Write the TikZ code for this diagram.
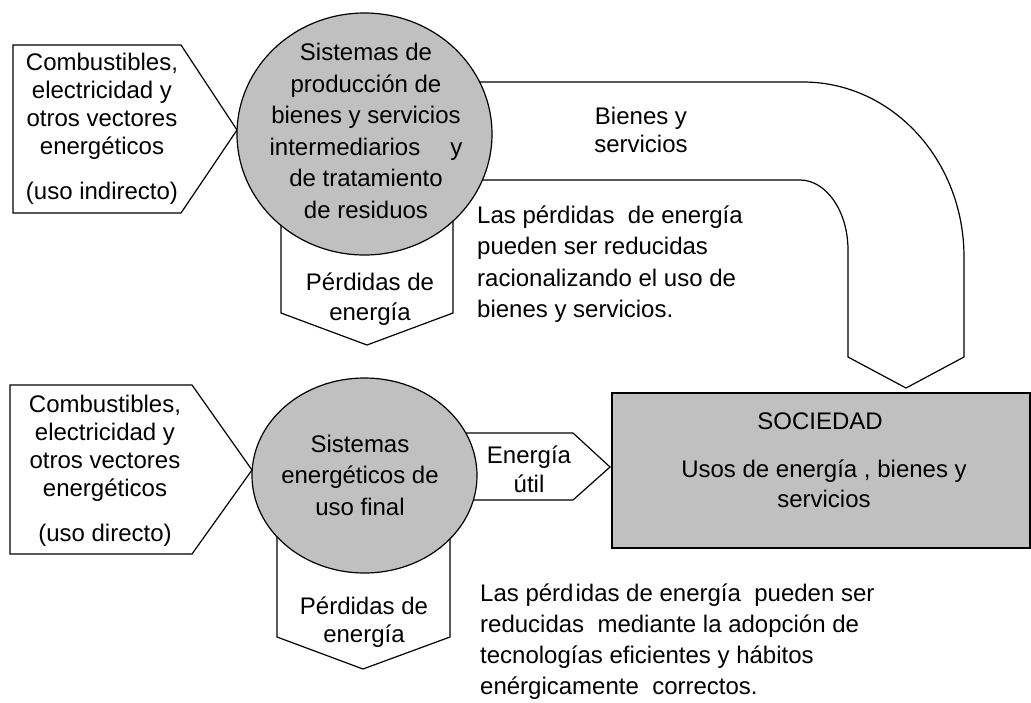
\documentclass[tikz,border=0pt]{standalone}
\usepackage{fontspec}
\setmainfont{Liberation Sans}
\usepackage{xcolor}
\usetikzlibrary{positioning}
\definecolor{sysgray}{HTML}{C0C0C0}
\def\tx{\fontsize{24}{28}\selectfont}

\begin{document}
\begin{tikzpicture}[x=1pt, y=-1pt,
  shp/.style={draw, line width=1.2pt, line join=miter},
  lbl/.style={align=center, inner sep=0pt, font=\tx},
  notetext/.style={align=left, inner sep=0pt, anchor=west, font=\fontsize{24}{31.5}\selectfont}]
\useasboundingbox (0,0) rectangle (1031,702);

% entradas
\draw[shp, fill=white] (13,45) -- (181,45) -- (237,130) -- (181,213) -- (13,213) -- cycle;
\draw[shp, fill=white] (10,385) -- (192,385) -- (252,470) -- (192,554) -- (10,554) -- cycle;

% perdidas
\draw[shp, fill=white] (281,200) -- (281,313) -- (367,345) -- (453,313) -- (453,200) -- cycle;
\draw[shp, fill=white] (277,520) -- (277,637) -- (363,669) -- (450,637) -- (450,520) -- cycle;

% bienes y servicios
\draw[shp, fill=white] (440,82) -- (803,82) .. controls (892,82) and (964,160) .. (964,257)
  -- (964,357) -- (906,388) -- (848,357) -- (848,250)
  .. controls (848,211) and (826,180) .. (800,180) -- (440,180) -- cycle;

% energia util
\draw[shp, fill=white] (420,433) -- (573,433) -- (610,467) -- (573,500) -- (420,500) -- cycle;

% sistemas y sociedad
\draw[shp, fill=sysgray] (364.5,134) ellipse [x radius=127.5pt, y radius=121pt];
\draw[shp, fill=sysgray] (364.5,475.5) ellipse [x radius=112.5pt, y radius=97.5pt];
\draw[shp, fill=sysgray] (612,393) rectangle (1030,548);

\node[lbl] (inInd) at (102,129) {Combustibles,\\electricidad y\\otros vectores\\energéticos\\[17pt](uso indirecto)};
\node[lbl] (inDir) at (105,471) {Combustibles,\\electricidad y\\otros vectores\\energéticos\\[17pt](uso directo)};
\node[lbl, font=\fontsize{24}{31.6}\selectfont] (sysProd) at (366,131) {Sistemas de\\producción de\\bienes y servicios\\intermediarios\hspace{30pt}y\\de tratamiento\\de residuos};
\node[lbl, font=\fontsize{24}{31.5}\selectfont] (sysFinal) at (360,475) {Sistemas\\energéticos de\\uso final};
\node[lbl, font=\fontsize{24}{30}\selectfont] (lossTop) at (370,299) {Pérdidas de\\energía};
\node[lbl, font=\fontsize{24}{28}\selectfont] (lossBot) at (364,622) {Pérdidas de\\energía};
\node[lbl] (goods) at (641,130) {Bienes y\\servicios};
\node[lbl, font=\fontsize{24}{29}\selectfont] (useful) at (529,469) {Energía\\útil};
\node[lbl] (soc) at (820,421) {SOCIEDAD};
\node[lbl, font=\fontsize{24}{30}\selectfont] (socUse) at (824,484) {Usos de energía , bienes y\\servicios};
\node[notetext] (noteTop) at (477,264) {Las pérdidas\ \ de energía\\pueden ser reducidas\\racionalizando el uso de\\bienes y servicios.};
\node[notetext, font=\fontsize{24}{31}\selectfont] (noteBot) at (480,642) {Las pérd{\kern2pt}idas de energía\ \ pueden ser\\reducidas\ \ mediante la adopción de\\tecnologías eficientes y hábitos\\enérgicamente\ \ correctos.};
\end{tikzpicture}
\end{document}
